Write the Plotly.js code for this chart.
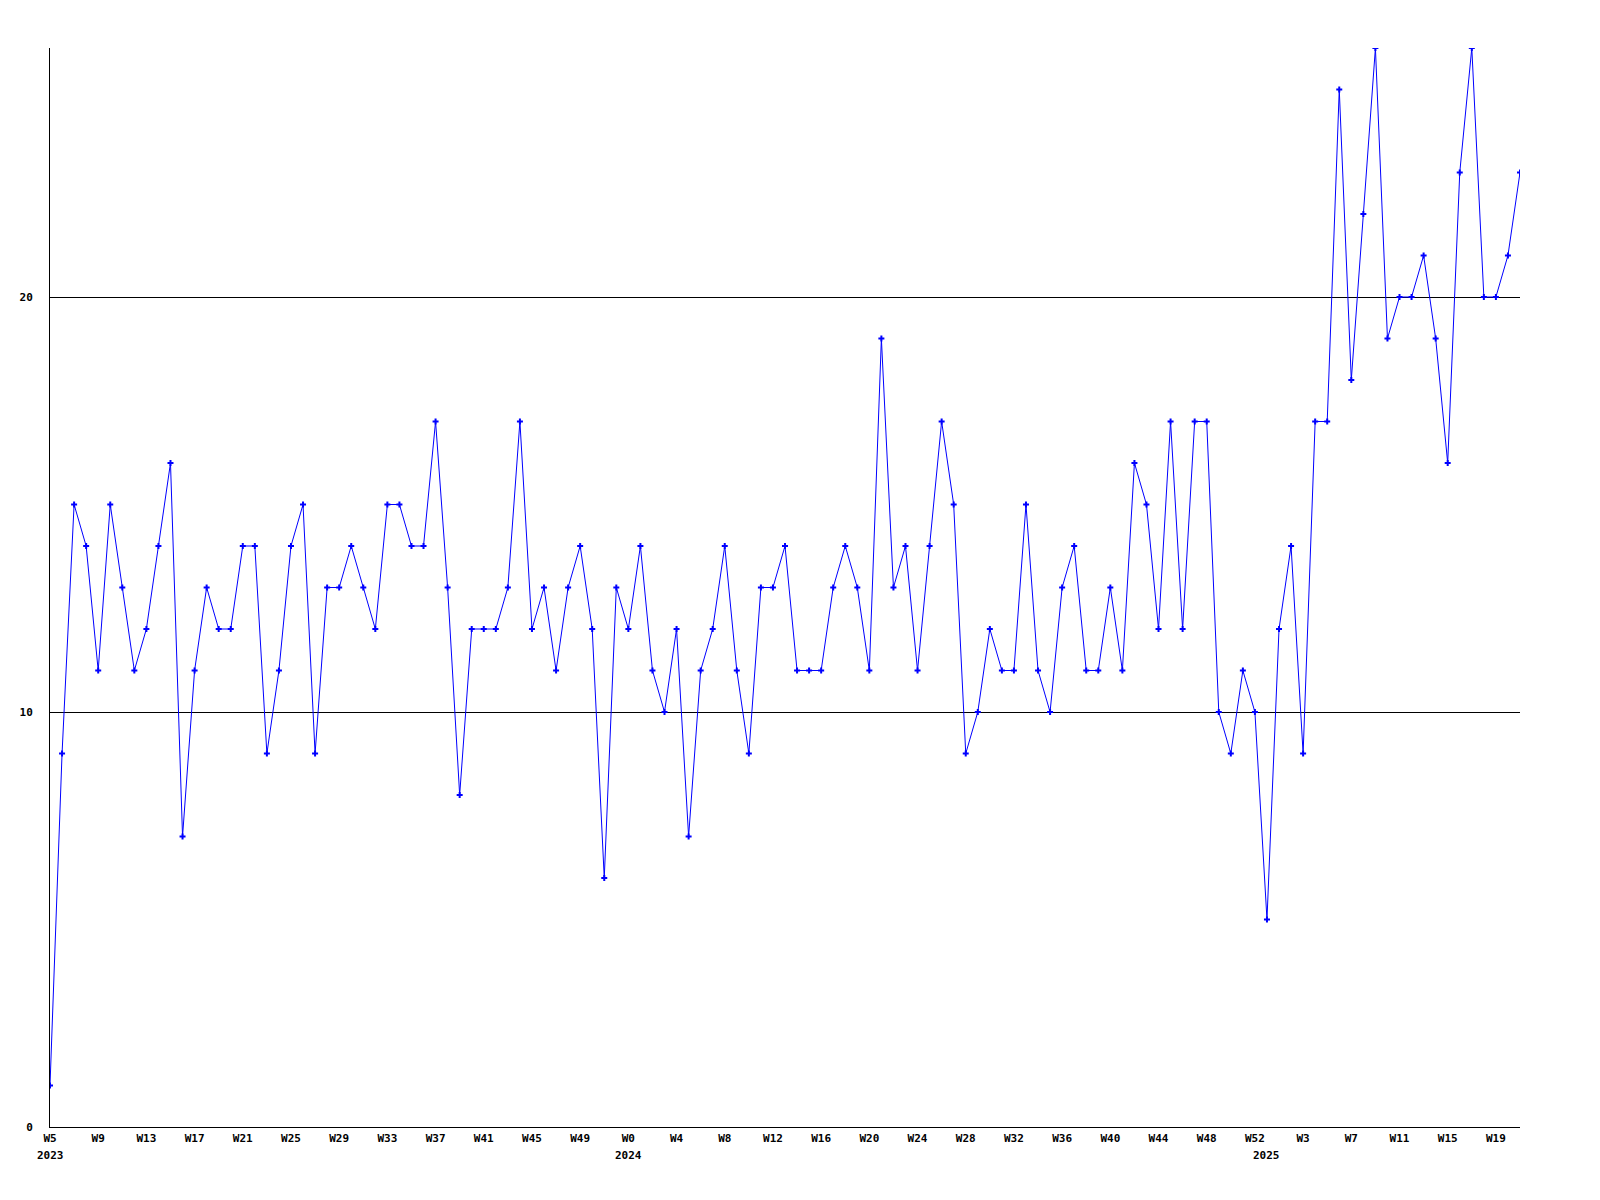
<!DOCTYPE html>
<html>
<head>
<meta charset="utf-8">
<script src="https://cdn.plot.ly/plotly-3.0.1.min.js"></script>
<style>html,body{margin:0;padding:0;background:#fff;}#chart{width:1600px;height:1200px;}</style>
</head>
<body>
<div id="chart"></div>
<script>
// Week ranges per year (categories of the x axis)
const years = [2023, 2024, 2025];
const firstWeek = [5, 0, 0];
const lastWeek = [52, 52, 21];

// Weekly values (one per week, in order)
const values2023 = [1, 9, 15, 14, 11, 15, 13, 11, 12, 14, 16, 7, 11, 13, 12, 12, 14, 14, 9, 11,
  14, 15, 9, 13, 13, 14, 13, 12, 15, 15, 14, 14, 17, 13, 8, 12, 12, 12, 13, 17,
  12, 13, 11, 13, 14, 12, 6, 13];
const values2024 = [12, 14, 11, 10, 12, 7, 11, 12, 14, 11, 9, 13, 13, 14, 11, 11, 11, 13, 14, 13,
  11, 19, 13, 14, 11, 14, 17, 15, 9, 10, 12, 11, 11, 15, 11, 10, 13, 14, 11, 11,
  13, 11, 16, 15, 12, 17, 12, 17, 17, 10, 9, 11, 10];
const values2025 = [5, 12, 14, 9, 17, 17, 25, 18, 22, 26, 19, 20, 20, 21, 19, 16, 23, 26, 20, 20, 21, 23];

// Build categories
const weekNames = [];
const weekYears = [];
years.forEach((y, k) => {
  for (let w = firstWeek[k]; w <= lastWeek[k]; w++) { weekNames.push('W' + w); weekYears.push(y); }
});
const values = values2023.concat(values2024, values2025);
const xIdx = values.map((_, i) => i);

// Tick every 4th week
const tickStep = 4;
const tickvals = [], ticktext = [];
for (let i = 0; i < weekNames.length; i += tickStep) { tickvals.push(i); ticktext.push(weekNames[i]); }

const tickFont = {family: 'DejaVu Sans Mono, monospace', size: 11, color: '#000', weight: 'bold'};

// Year labels at first week of each year
const annotations = years.map(y => {
  const i = weekYears.indexOf(y);
  return {x: i, xref: 'x', y: 0, yref: 'paper', yshift: -20, text: String(y), showarrow: false,
    xanchor: 'center', yanchor: 'top', font: tickFont};
});

const trace = {
  x: xIdx, y: values, type: 'scatter', mode: 'lines+markers',
  line: {color: '#0000ff', width: 1},
  marker: {symbol: 'cross', size: 5, color: '#0000ff', line: {width: 0}},
  hoverinfo: 'skip'
};

const layout = {
  width: 1600, height: 1200,
  margin: {l: 50, r: 80, t: 48, b: 73},
  paper_bgcolor: '#fff', plot_bgcolor: '#fff',
  showlegend: false,
  xaxis: {
    range: [0, weekNames.length - 1], tickmode: 'array', tickvals: tickvals, ticktext: ticktext,
    showgrid: false, zeroline: false, showline: true, linecolor: '#000', linewidth: 1,
    ticks: '', ticklabelstandoff: 1, tickfont: tickFont, tickangle: 0
  },
  yaxis: {
    range: [0, 26], tickmode: 'array', tickvals: [0, 10, 20], ticktext: ['0', '10', '20'],
    showgrid: true, gridcolor: '#000', gridwidth: 1, zeroline: false,
    showline: true, linecolor: '#000', linewidth: 1,
    ticks: '', ticklabelstandoff: 14, tickfont: tickFont
  },
  annotations: annotations
};

Plotly.newPlot('chart', [trace], layout, {staticPlot: true, displayModeBar: false});
</script>
</body>
</html>
